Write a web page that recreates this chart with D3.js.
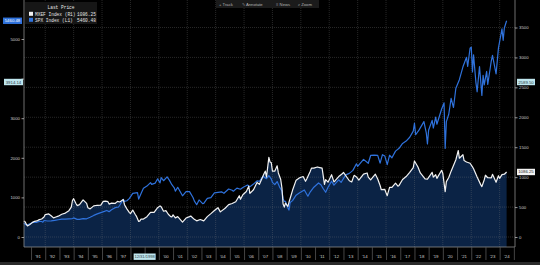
<!DOCTYPE html>
<html>
<head>
<meta charset="utf-8">
<script src="https://cdn.jsdelivr.net/npm/d3@7"></script>
<style>
  body { margin: 0; background: #000; }
  svg { display: block; }
</style>
</head>
<body>
<div id="chart"></div>
<script>
'use strict'
// SPX Index (left axis), month points
var spx = [
  ['1990-07', 356], ['1990-08', 322], ['1990-09', 306], ['1990-10', 304], ['1990-11', 322], ['1990-12', 330],
  ['1991-02', 367], ['1991-04', 375], ['1991-06', 371], ['1991-08', 395], ['1991-10', 392], ['1991-11', 375], ['1991-12', 417],
  ['1992-03', 404], ['1992-06', 408], ['1992-09', 418], ['1992-12', 436],
  ['1993-03', 452], ['1993-06', 451], ['1993-09', 459], ['1993-12', 466],
  ['1994-01', 482], ['1994-04', 445], ['1994-06', 444], ['1994-09', 463], ['1994-12', 459],
  ['1995-03', 500], ['1995-06', 545], ['1995-09', 584], ['1995-12', 616],
  ['1996-03', 646], ['1996-05', 670], ['1996-07', 640], ['1996-09', 687], ['1996-12', 741],
  ['1997-03', 757], ['1997-04', 801], ['1997-07', 954], ['1997-08', 899], ['1997-10', 915], ['1997-12', 970],
  ['1998-03', 1102], ['1998-07', 1120], ['1998-08', 957], ['1998-10', 1098], ['1998-12', 1229],
  ['1999-03', 1286], ['1999-06', 1373], ['1999-07', 1328], ['1999-10', 1362], ['1999-12', 1469],
  ['2000-02', 1366], ['2000-03', 1499], ['2000-05', 1421], ['2000-08', 1518], ['2000-10', 1429], ['2000-12', 1320],
  ['2001-02', 1240], ['2001-03', 1160], ['2001-05', 1255], ['2001-09', 1041], ['2001-12', 1148],
  ['2002-03', 1147], ['2002-06', 990], ['2002-07', 912], ['2002-09', 815], ['2002-11', 936],
  ['2003-02', 841], ['2003-03', 848], ['2003-06', 975], ['2003-09', 996], ['2003-12', 1112],
  ['2004-03', 1126], ['2004-06', 1141], ['2004-08', 1104], ['2004-12', 1212],
  ['2005-03', 1181], ['2005-04', 1157], ['2005-07', 1234], ['2005-10', 1207], ['2005-12', 1248],
  ['2006-04', 1311], ['2006-06', 1270], ['2006-09', 1336], ['2006-12', 1418],
  ['2007-02', 1407], ['2007-05', 1531], ['2007-08', 1474], ['2007-10', 1549], ['2007-12', 1468],
  ['2008-01', 1379], ['2008-03', 1323], ['2008-05', 1400], ['2008-07', 1267], ['2008-09', 1166], ['2008-10', 969], ['2008-11', 896], ['2008-12', 903],
  ['2009-02', 735], ['2009-03', 680], ['2009-04', 873], ['2009-06', 919], ['2009-09', 1057], ['2009-12', 1115],
  ['2010-04', 1187], ['2010-07', 1030], ['2010-09', 1141], ['2010-12', 1258],
  ['2011-04', 1364], ['2011-06', 1321], ['2011-08', 1219], ['2011-10', 1130], ['2011-12', 1258],
  ['2012-03', 1408], ['2012-05', 1310], ['2012-09', 1441], ['2012-11', 1380], ['2012-12', 1426],
  ['2013-03', 1569], ['2013-06', 1606], ['2013-09', 1682], ['2013-12', 1848],
  ['2014-01', 1783], ['2014-06', 1960], ['2014-10', 1862], ['2014-12', 2059],
  ['2015-03', 2068], ['2015-06', 2063], ['2015-08', 1867], ['2015-10', 2079], ['2015-12', 2044],
  ['2016-02', 1829], ['2016-04', 2065], ['2016-06', 2000], ['2016-09', 2168], ['2016-12', 2239],
  ['2017-03', 2363], ['2017-06', 2423], ['2017-09', 2519], ['2017-12', 2674],
  ['2018-01', 2873], ['2018-02', 2582], ['2018-05', 2705], ['2018-09', 2914], ['2018-11', 2632], ['2018-12', 2351],
  ['2019-01', 2704], ['2019-04', 2946], ['2019-05', 2752], ['2019-07', 3025], ['2019-08', 2847], ['2019-12', 3231],
  ['2020-02', 3386], ['2020-03', 2237], ['2020-04', 2912], ['2020-06', 3100], ['2020-08', 3500], ['2020-10', 3270], ['2020-12', 3756],
  ['2021-03', 3973], ['2021-06', 4298], ['2021-09', 4537], ['2021-10', 4307], ['2021-12', 4766],
  ['2022-01', 4796], ['2022-02', 4170], ['2022-03', 4600], ['2022-05', 3900], ['2022-06', 3667], ['2022-08', 4305], ['2022-10', 3577], ['2022-11', 4080], ['2022-12', 3840],
  ['2023-02', 4180], ['2023-03', 3855], ['2023-06', 4450], ['2023-07', 4589], ['2023-10', 4117], ['2023-12', 4770],
  ['2024-03', 5254], ['2024-04', 4967], ['2024-05', 5278], ['2024-06-28', 5460.48]
]
// MXEF Index (right axis)
var mxef = [
  ['1990-07', 265], ['1990-08', 255], ['1990-09', 215], ['1990-10', 185], ['1990-11', 195], ['1990-12', 208],
  ['1991-02', 240], ['1991-04', 262], ['1991-06', 268], ['1991-08', 290], ['1991-10', 300], ['1991-12', 334],
  ['1992-01', 375], ['1992-04', 385], ['1992-06', 355], ['1992-08', 320], ['1992-10', 335], ['1992-12', 348],
  ['1993-03', 380], ['1993-06', 400], ['1993-09', 440], ['1993-11', 500], ['1993-12', 610],
  ['1994-01', 640], ['1994-03', 560], ['1994-04', 525], ['1994-06', 540], ['1994-09', 620], ['1994-12', 562],
  ['1995-01', 490], ['1995-03', 470], ['1995-06', 520], ['1995-09', 530], ['1995-12', 532],
  ['1996-02', 595], ['1996-04', 600], ['1996-06', 590], ['1996-07', 550], ['1996-09', 565], ['1996-12', 561],
  ['1997-02', 595], ['1997-04', 585], ['1997-07', 625], ['1997-08', 540], ['1997-10', 470], ['1997-12', 412],
  ['1998-01', 390], ['1998-03', 450], ['1998-05', 380], ['1998-06', 350], ['1998-08', 260], ['1998-09', 270], ['1998-10', 300], ['1998-12', 299],
  ['1999-03', 340], ['1999-06', 410], ['1999-09', 410], ['1999-12', 489],
  ['2000-02', 520], ['2000-03', 505], ['2000-05', 430], ['2000-07', 440], ['2000-09', 380], ['2000-11', 340], ['2000-12', 334],
  ['2001-01', 370], ['2001-03', 320], ['2001-05', 340], ['2001-09', 250], ['2001-12', 317],
  ['2002-03', 340], ['2002-04', 350], ['2002-07', 295], ['2002-09', 270], ['2002-12', 292],
  ['2003-03', 270], ['2003-06', 340], ['2003-09', 390], ['2003-12', 442],
  ['2004-03', 490], ['2004-05', 420], ['2004-09', 480], ['2004-12', 542],
  ['2005-03', 560], ['2005-06', 590], ['2005-09', 690], ['2005-10', 630], ['2005-12', 706],
  ['2006-03', 760], ['2006-05', 850], ['2006-06', 730], ['2006-09', 790], ['2006-12', 912],
  ['2007-02', 880], ['2007-06', 1060], ['2007-07', 1100], ['2007-08', 1000], ['2007-10', 1330], ['2007-11', 1250], ['2007-12', 1245],
  ['2008-01', 1100], ['2008-03', 1100], ['2008-05', 1190], ['2008-06', 1070], ['2008-08', 960], ['2008-09', 820], ['2008-10', 550], ['2008-11', 500], ['2008-12', 567],
  ['2009-02', 510], ['2009-03', 580], ['2009-06', 780], ['2009-09', 950], ['2009-12', 989],
  ['2010-03', 1010], ['2010-05', 930], ['2010-06', 970], ['2010-09', 1100], ['2010-10', 1150], ['2010-12', 1151],
  ['2011-03', 1170], ['2011-05', 1160], ['2011-07', 1150], ['2011-09', 880], ['2011-10', 960], ['2011-12', 916],
  ['2012-03', 1040], ['2012-05', 920], ['2012-06', 940], ['2012-09', 1010], ['2012-12', 1055],
  ['2013-01', 1080], ['2013-06', 940], ['2013-08', 920], ['2013-10', 1030], ['2013-12', 1003],
  ['2014-02', 950], ['2014-06', 1050], ['2014-09', 1070], ['2014-10', 1000], ['2014-12', 956],
  ['2015-04', 1050], ['2015-06', 970], ['2015-08', 860], ['2015-09', 790], ['2015-12', 794],
  ['2016-01', 740], ['2016-02', 690], ['2016-04', 830], ['2016-06', 830], ['2016-09', 900], ['2016-11', 850], ['2016-12', 862],
  ['2017-03', 960], ['2017-06', 1010], ['2017-09', 1080], ['2017-12', 1158],
  ['2018-01', 1270], ['2018-04', 1170], ['2018-06', 1070], ['2018-10', 970], ['2018-12', 966],
  ['2019-04', 1080], ['2019-05', 1000], ['2019-07', 1040], ['2019-08', 980], ['2019-12', 1114],
  ['2020-01', 1060], ['2020-03', 758], ['2020-04', 925], ['2020-06', 995], ['2020-08', 1100], ['2020-12', 1291],
  ['2021-02', 1445], ['2021-03', 1316], ['2021-06', 1374], ['2021-07', 1277], ['2021-09', 1253], ['2021-12', 1232],
  ['2022-02', 1171], ['2022-03', 1141], ['2022-06', 1001], ['2022-09', 875], ['2022-10', 842], ['2022-12', 956],
  ['2023-01', 1032], ['2023-03', 990], ['2023-06', 989], ['2023-07', 1047], ['2023-10', 916], ['2023-12', 1024],
  ['2024-01', 980], ['2024-03', 1043], ['2024-04', 1046], ['2024-05', 1049], ['2024-06-28', 1086.25]
]
var leftTicks = [0, 1000, 2000, 3000, 4000, 5000]
var rightTicks = [0, 500, 1000, 1500, 2000, 2500, 3000, 3500]
var years = d3.range(1991, 2025)
var legendRows = [
  {name: 'MXEF Index', axis: '(R1)', last: '1086.25', color: '#f2f2f2'},
  {name: 'SPX Index', axis: '(L1)', last: '5460.48', color: '#2f72dc'}
]
var toolbar = ['+ Track', '\u270E Annotate', '\u2261 News', '\u2315 Zoom']
var crossDate = '12/31/1998'

var W = 540, H = 265
var L = 24, R = 515, T = 0, B = 247
var mono = 'Liberation Mono, DejaVu Sans Mono, monospace'
var sans = 'Liberation Sans, Arial, sans-serif'

var parse = d3.isoParse
spx.forEach(d => d.date = parse(d[0]))
mxef.forEach(d => d.date = parse(d[0]))

var x = d3.scaleUtc()
  .domain([new Date(Date.UTC(1990, 6, 4)), new Date(Date.UTC(2025, 0, 30))])
  .range([L, R])
var yL = d3.scaleLinear().domain([0, 5000]).range([237, 39])
var yR = d3.scaleLinear().domain([0, 3500]).range([237, 27.5])

// crosshair position (tags drawn over the axis labels)
var crossY = 82
var cx = x(new Date(Date.UTC(1999, 0, 1)))

var svg = d3.select('#chart').append('svg')
  .attr('width', W)
  .attr('height', H)
  .style('font-family', sans)

svg.append('rect').attr('width', W).attr('height', H).attr('fill', '#000')

// area under MXEF
var area = d3.area()
  .x(d => x(d.date))
  .y0(B)
  .y1(d => yR(d[1]))
svg.append('path')
  .attr('d', area(mxef))
  .attr('fill', '#0b2345')

// grid
var grid = svg.append('g')
  .attr('stroke', 'rgba(130,130,130,0.5)')
  .attr('stroke-width', 0.6)
  .attr('stroke-dasharray', '1,1')
grid.selectAll('.v')
  .data(years.filter(y => y % 2 === 0))
  .join('line')
  .attr('x1', y => x(new Date(Date.UTC(y, 0, 1))))
  .attr('x2', y => x(new Date(Date.UTC(y, 0, 1))))
  .attr('y1', T)
  .attr('y2', B)
grid.selectAll('.h')
  .data(rightTicks)
  .join('line')
  .attr('x1', L)
  .attr('x2', R)
  .attr('y1', d => yR(d))
  .attr('y2', d => yR(d))

// lines
var lineL = d3.line().x(d => x(d.date)).y(d => yL(d[1]))
var lineR = d3.line().x(d => x(d.date)).y(d => yR(d[1]))
svg.append('path')
  .attr('d', lineL(spx))
  .attr('fill', 'none')
  .attr('stroke', legendRows[1].color)
  .attr('stroke-width', 1.2)
  .attr('stroke-linejoin', 'round')
svg.append('path')
  .attr('d', lineR(mxef))
  .attr('fill', 'none')
  .attr('stroke', legendRows[0].color)
  .attr('stroke-width', 1.2)
  .attr('stroke-linejoin', 'round')

// frame
svg.append('path')
  .attr('d', `M${L},${T}V${B}H${R}V${T}`)
  .attr('fill', 'none')
  .attr('stroke', '#8a8a8a')
  .attr('stroke-width', 0.8)

// axes
function styleAxis (g) {
  g.select('.domain').remove()
  g.selectAll('line').attr('stroke', '#bbb').attr('stroke-width', 0.8)
  g.selectAll('text').attr('fill', '#cfcfcf').attr('font-size', 4.3).attr('font-family', sans)
}
svg.append('g')
  .attr('transform', `translate(${L},0)`)
  .call(d3.axisLeft(yL).tickValues(leftTicks).tickSize(2.5).tickPadding(1.5).tickFormat(d3.format('d')))
  .call(styleAxis)
  .selectAll('text')
  .filter(d => Math.abs(yL(d) - crossY) < 6)
  .remove()
svg.append('g')
  .attr('transform', `translate(${R},0)`)
  .call(d3.axisRight(yR).tickValues(rightTicks).tickSize(2.5).tickPadding(1.5).tickFormat(d3.format('d')))
  .call(styleAxis)
svg.append('g')
  .attr('transform', `translate(0,${B})`)
  .call(d3.axisBottom(x).ticks(d3.utcYear).tickSize(13).tickFormat(''))
  .call(styleAxis)
  .selectAll('line').attr('stroke', '#555')
// year labels sit between ticks; the ones under the date tag are hidden
svg.append('g').selectAll('text')
  .data(years.filter(y => Math.abs(x(new Date(Date.UTC(y, 6, 2))) - cx) > 12))
  .join('text')
  .attr('x', y => x(new Date(Date.UTC(y, 6, 2))))
  .attr('y', 258)
  .attr('text-anchor', 'middle')
  .attr('font-size', 4.3)
  .attr('fill', '#cfcfcf')
  .text(y => "'" + String(y).slice(2))

svg.append('rect').attr('y', 262).attr('width', W).attr('height', 3).attr('fill', '#2a2a2a')

// value tags on the axes
function tag (xPos, yPos, w, txt, bg, fg) {
  var g = svg.append('g')
  g.append('rect')
    .attr('x', xPos).attr('y', yPos - 3.2)
    .attr('width', w).attr('height', 6.4)
    .attr('fill', bg)
  g.append('text')
    .attr('x', xPos + w / 2).attr('y', yPos + 1.5)
    .attr('text-anchor', 'middle')
    .attr('font-size', 4.3)
    .attr('font-family', sans)
    .attr('fill', fg)
    .text(txt)
}
tag(3, yL(5460.48), 19, '5460.48', '#2f72dc', '#fff')
tag(4, crossY, 19, yL.invert(crossY).toFixed(2), '#bfe6ee', '#2b3a44')
tag(517, crossY, 18, yR.invert(crossY).toFixed(2), '#bfe6ee', '#2b3a44')
tag(517, yR(1086.25), 18, '1086.25', '#f2f2f2', '#222')
svg.append('rect')
  .attr('x', cx - 11).attr('y', 253.5).attr('width', 22).attr('height', 6.4)
  .attr('fill', '#bfe6ee')
svg.append('text')
  .attr('x', cx).attr('y', 258.3)
  .attr('text-anchor', 'middle')
  .attr('font-size', 4.1)
  .attr('fill', '#2b3a44')
  .text(crossDate)

// legend
var lg = svg.append('g').attr('font-family', mono).attr('font-size', 4.5)
lg.append('rect')
  .attr('x', 25).attr('y', 2).attr('width', 72).attr('height', 22)
  .attr('fill', '#161616')
lg.append('text')
  .attr('x', 61).attr('y', 8.5)
  .attr('text-anchor', 'middle')
  .attr('fill', '#e6e6e6')
  .text('Last Price')
var rows = lg.selectAll('.row')
  .data(legendRows)
  .join('g')
  .attr('transform', (d, i) => `translate(0,${14 + i * 6})`)
rows.append('rect')
  .attr('x', 29).attr('y', -2.2).attr('width', 4).attr('height', 4)
  .attr('fill', d => d.color)
rows.append('text')
  .attr('x', 35).attr('y', 1.5)
  .attr('fill', '#e6e6e6')
  .text(d => d.name + ' ' + d.axis)
rows.append('text')
  .attr('x', 77).attr('y', 1.5)
  .attr('fill', '#e6e6e6')
  .text(d => d.last)

// toolbar
var tb = svg.append('g').attr('font-size', 4.2)
tb.append('rect')
  .attr('x', 216).attr('y', 0).attr('width', 103).attr('height', 8)
  .attr('fill', '#1b1b1b')
var tx = [219, 242, 276, 298]
tb.selectAll('text')
  .data(toolbar)
  .join('text')
  .attr('x', (d, i) => tx[i])
  .attr('y', 5.5)
  .attr('fill', '#b4b4b4')
  .text(d => d)
</script>
</body>
</html>
